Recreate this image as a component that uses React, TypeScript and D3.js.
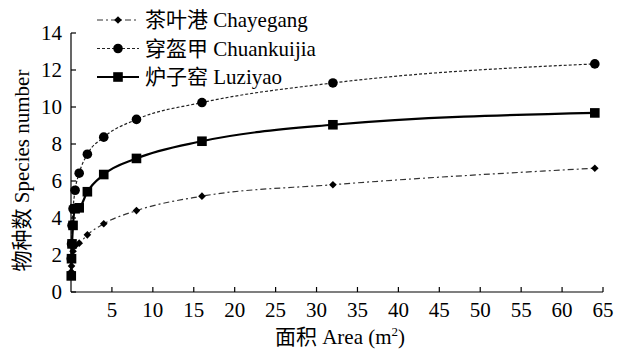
import React from "react";
import * as d3 from "d3";

const areas = [0.03125, 0.0625, 0.125, 0.25, 0.5, 1, 2, 4, 8, 16, 32, 64];
const chayegang = [1.1, 1.4, 1.8, 2.2, 2.5, 2.64, 3.09, 3.69, 4.4, 5.18, 5.8, 6.69];
const chuankuijia = [1.8, 2.6, 3.6, 4.5, 5.5, 6.42, 7.45, 8.37, 9.33, 10.24, 11.3, 12.33];
const luziyao = [0.87, 1.8, 2.6, 3.6, 4.5, 4.55, 5.42, 6.35, 7.22, 8.15, 9.04, 9.68];
const xTicks = [5, 10, 15, 20, 25, 30, 35, 40, 45, 50, 55, 60, 65];
const yTicks = [0, 2, 4, 6, 8, 10, 12, 14];
const seriesNames = ["茶叶港 Chayegang", "穿盔甲 Chuankuijia", "炉子窑 Luziyao"];

const W = 624;
const H = 349;
const FONT = '"Liberation Serif", "Times New Roman", "Noto Sans CJK SC", serif';
const FS = 21;

type Series = {
  name: string;
  values: number[];
  marker: "diamond" | "circle" | "square";
  dash: string;
  width: number;
  color: string;
};

const series: Series[] = [
  { name: seriesNames[0], values: chayegang, marker: "diamond", dash: "6,3,2,3", width: 1.2, color: "#333" },
  { name: seriesNames[1], values: chuankuijia, marker: "circle", dash: "3,2", width: 1.2, color: "#222" },
  { name: seriesNames[2], values: luziyao, marker: "square", dash: "", width: 2.2, color: "#000" },
];

function Marker({ type, x, y }: { type: string; x: number; y: number }) {
  if (type === "circle") return <circle cx={x} cy={y} r={4.8} fill="#000" />;
  if (type === "square") return <rect x={x - 4.8} y={y - 4.8} width={9.6} height={9.6} fill="#000" />;
  const s = 3.8;
  return (
    <path d={`M${x},${y - s} L${x + s},${y} L${x},${y + s} L${x - s},${y} Z`} fill="#000" />
  );
}

const txt = { fontFamily: FONT, fontSize: FS } as React.CSSProperties;

export default function App() {
  const x = d3.scaleLinear().domain([0, 65]).range([71, 603]);
  const y = d3.scaleLinear().domain([0, 14]).range([292, 33]);
  const line = d3
    .line<number>()
    .x((_, i) => x(areas[i]))
    .y((d) => y(d))
    .curve(d3.curveMonotoneX);

  return (
    <svg
      width={W}
      height={H}
      style={{ position: "absolute", left: 0, top: 0, background: "#fff" }}
    >
      <rect width={W} height={H} fill="#fff" />
      {/* axes */}
      <line x1={x(0)} x2={x(0)} y1={y(14)} y2={y(0)} stroke="#000" strokeWidth={1.2} />
      <line x1={x(0)} x2={x(65)} y1={y(0)} y2={y(0)} stroke="#000" strokeWidth={1.2} />
      {yTicks.map((t) => (
        <g key={"y" + t}>
          <line x1={x(0)} x2={x(0) + 5} y1={y(t)} y2={y(t)} stroke="#000" strokeWidth={1.2} />
          <text x={x(0) - 9} y={y(t)} dy="0.34em" textAnchor="end" style={txt} fill="#000">
            {t}
          </text>
        </g>
      ))}
      {xTicks.map((t) => (
        <g key={"x" + t}>
          <line x1={x(t)} x2={x(t)} y1={y(0)} y2={y(0) - 5} stroke="#000" strokeWidth={1.2} />
          <text x={x(t)} y={y(0) + 25} textAnchor="middle" style={txt} fill="#000">
            {t}
          </text>
        </g>
      ))}
      {/* axis titles */}
      <text x={340} y={344} textAnchor="middle" style={txt} fill="#000">
        面积 Area (m<tspan dy={-8} style={{ fontSize: 13 }}>2</tspan>
        <tspan dy={8}>)</tspan>
      </text>
      <text
        transform={`translate(29,${(y(0) + y(14)) / 2 + 8}) rotate(-90)`}
        textAnchor="middle"
        style={txt}
        fill="#000"
      >
        物种数 Species number
      </text>
      {/* series */}
      {series.map((s) => (
        <g key={s.name}>
          <path
            d={line(s.values) || ""}
            fill="none"
            stroke={s.color}
            strokeWidth={s.width}
            strokeDasharray={s.dash || undefined}
          />
          {s.values.map((v, i) => (
            <Marker key={i} type={s.marker} x={x(areas[i])} y={y(v)} />
          ))}
        </g>
      ))}
      {/* legend */}
      {series.map((s, i) => {
        const ly = 20 + i * 28.5;
        return (
          <g key={"lg" + i}>
            <line
              x1={97}
              x2={139}
              y1={ly}
              y2={ly}
              stroke={s.color}
              strokeWidth={s.width}
              strokeDasharray={s.dash || undefined}
            />
            <Marker type={s.marker} x={118} y={ly} />
            <text x={145} y={ly} dy="0.34em" style={txt} fill="#000">
              {s.name}
            </text>
          </g>
        );
      })}
    </svg>
  );
}
